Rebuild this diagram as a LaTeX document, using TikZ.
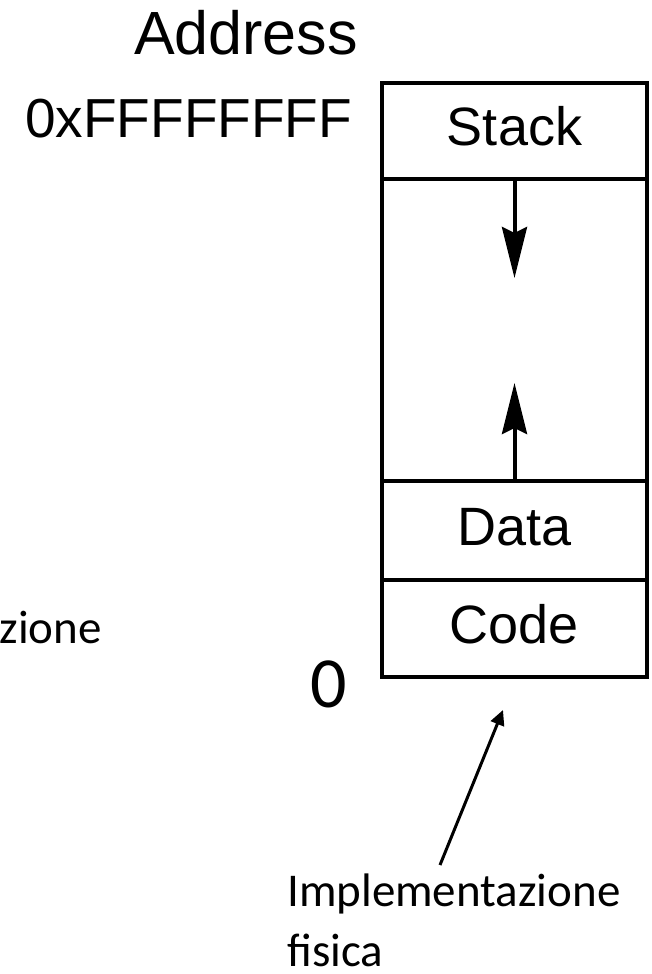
\documentclass[tikz,border=0pt]{standalone}
\usepackage{fontspec}
\setmainfont{Liberation Sans}
\newfontfamily\calib{Carlito}
\usetikzlibrary{arrows.meta}
\tikzset{
  seg/.style={draw, line width=4.5pt, minimum width=265pt, inner sep=0pt,
    text height=40pt, text depth=11pt, font=\fontsize{54}{60}\selectfont},
  growarrow/.style={line width=4pt, -{Stealth[length=51pt,width=25pt,inset=6pt]}},
  pointer/.style={line width=3pt, -{Triangle[length=15pt,width=14pt]}},
  helv/.style={inner sep=0pt},
  calibtext/.style={inner sep=0pt, font=\calib\fontsize{47}{57}\selectfont}
}
\begin{document}
\begin{tikzpicture}[x=1pt,y=-1pt]
\useasboundingbox (0,0) rectangle (652,974);
\fill[white] (0,0) rectangle (652,974);

% labels
\node[helv, anchor=base, font=\fontsize{61}{70}\selectfont] (addr) at (246,55) {Address};
\node[helv, anchor=base west, font=\fontsize{55}{64}\selectfont] (ffff) at (25,137) {0xFFFFFFFF};
\node[helv, anchor=base, font=\calib\fontsize{72}{80}\selectfont] (zero) at (329,707) {0};

% memory layout
\node[seg, minimum height=96pt] (stack) at (514.5,131) {Stack};
\node[seg, minimum height=302pt] (mid) at (514.5,330) {};
\node[seg, minimum height=99pt] (data) at (514.5,530.5) {Data};
\node[seg, minimum height=97pt] (code) at (514.5,628.5) {Code};

% growth arrows
\coordinate (downtip) at (514.5,278);
\coordinate (uptip) at (514.5,383);
\draw[growarrow] (stack.south) -- (downtip);
\draw[growarrow] (data.north) -- (uptip);

% left clipped label
\node[calibtext, anchor=base east] (logica) at (102,643) {zione};

% physical implementation
\node[calibtext, anchor=base west] (impl) at (287,906) {Implementazione};
\node[calibtext, anchor=base west] (fis) at (287,966) {fisica};
\coordinate (ptail) at (440,865);
\coordinate (ptip) at (503,710);
\draw[pointer] (ptail) -- (ptip);
\end{tikzpicture}
\end{document}
